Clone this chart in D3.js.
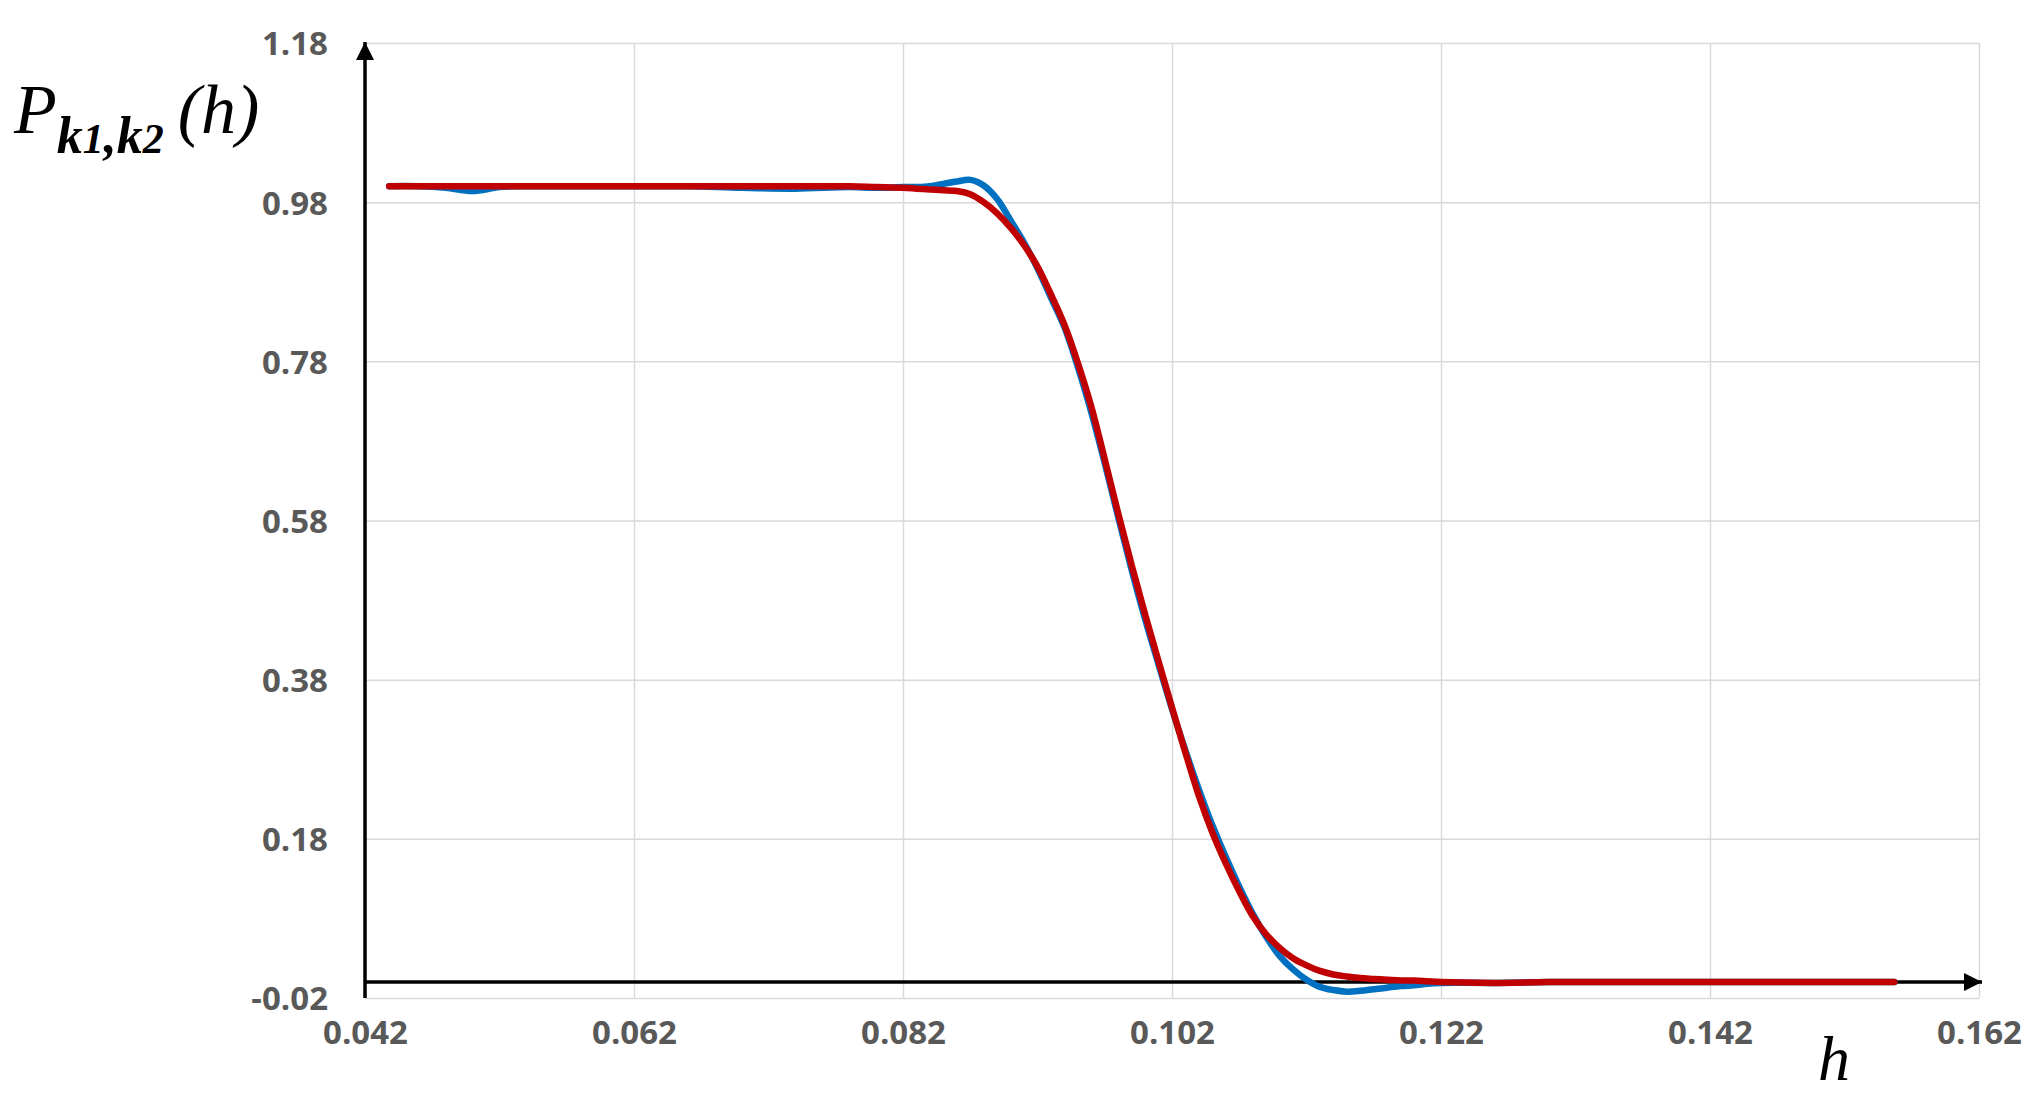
<!DOCTYPE html>
<html>
<head>
<meta charset="utf-8">
<script src="https://cdn.jsdelivr.net/npm/d3@7"></script>
<style>
  body { margin: 0; background: #fff; }
  svg { display: block; }
  .serif { font-family: "Liberation Serif", "Times New Roman", serif; font-style: italic; }
</style>
</head>
<body>
<svg width="2036" height="1096"></svg>
<script>
// h values (shared by both curves)
var hValues = [0.0438, 0.046, 0.048, 0.050, 0.052, 0.054, 0.058, 0.062, 0.066, 0.070, 0.074, 0.078,
  0.080, 0.082, 0.083, 0.084, 0.085, 0.086, 0.087, 0.088, 0.089, 0.090, 0.091, 0.092, 0.093, 0.094,
  0.095, 0.096, 0.097, 0.098, 0.099, 0.100, 0.101, 0.102, 0.103, 0.104, 0.105, 0.106, 0.107, 0.108,
  0.109, 0.110, 0.111, 0.112, 0.113, 0.114, 0.115, 0.116, 0.117, 0.118, 0.119, 0.120, 0.121, 0.122,
  0.126, 0.130, 0.134, 0.138, 0.142, 0.146, 0.150, 0.154, 0.1557];

var blueValues = [1.000, 1.000, 0.998, 0.994, 0.999, 1.000, 1.000, 1.000, 1.000, 0.998, 0.997, 0.999,
  0.998, 0.999, 0.999, 1.000, 1.003, 1.006, 1.008, 1.001, 0.984, 0.957, 0.929, 0.897, 0.860, 0.823,
  0.773, 0.716, 0.652, 0.584, 0.518, 0.456, 0.399, 0.343, 0.291, 0.242, 0.197, 0.157, 0.120, 0.086,
  0.057, 0.033, 0.016, 0.003, -0.006, -0.010, -0.012, -0.011, -0.009, -0.007, -0.005, -0.004, -0.002, -0.001,
  -0.001, 0.000, 0.000, 0.000, 0.000, 0.000, 0.000, 0.000, 0.000];

var redValues = [1.000, 1.000, 1.000, 1.000, 1.000, 1.000, 1.000, 1.000, 1.000, 1.000, 1.000, 1.000,
  0.999, 0.998, 0.997, 0.996, 0.995, 0.994, 0.990, 0.980, 0.966, 0.948, 0.926, 0.899, 0.864, 0.826,
  0.778, 0.723, 0.657, 0.589, 0.524, 0.462, 0.403, 0.345, 0.288, 0.234, 0.188, 0.149, 0.114, 0.083,
  0.060, 0.043, 0.030, 0.021, 0.014, 0.0095, 0.007, 0.005, 0.004, 0.003, 0.002, 0.002, 0.001, 0.000,
  -0.001, 0.000, 0.000, 0.000, 0.000, 0.000, 0.000, 0.000, 0.000];

var xTicks = [0.042, 0.062, 0.082, 0.102, 0.122, 0.142, 0.162];
var yTicks = [-0.02, 0.18, 0.38, 0.58, 0.78, 0.98, 1.18];

var svg = d3.select("svg"),
    margin = {top: 43, left: 365},
    width = 1979 - 365,
    height = 998 - 43,
    g = svg.append("g").attr("transform", "translate(" + margin.left + "," + margin.top + ")");

var x = d3.scaleLinear().domain([0.042, 0.162]).range([0, width]);
var y = d3.scaleLinear().domain([-0.02, 1.18]).range([height, 0]);

// plain hyphen for negatives, like the original
var fmt = d3.formatLocale({decimal: ".", thousands: ",", grouping: [3], currency: ["", ""], minus: "-"});

// grid
g.append("g")
    .attr("transform", "translate(0," + height + ")")
    .call(d3.axisBottom(x).tickValues(xTicks).tickSize(-height).tickFormat(""))
    .call(function(a) { a.select(".domain").remove(); })
    .selectAll("line")
      .attr("stroke", "#d9d9d9")
      .attr("stroke-width", 1.5);

g.append("g")
    .call(d3.axisLeft(y).tickValues(yTicks).tickSize(-width).tickFormat(""))
    .call(function(a) { a.select(".domain").remove(); })
    .selectAll("line")
      .attr("stroke", "#d9d9d9")
      .attr("stroke-width", 1.5);

// tick labels
g.append("g")
    .attr("transform", "translate(0," + height + ")")
    .call(d3.axisBottom(x).tickValues(xTicks).tickSize(0).tickFormat(fmt.format(".3f")))
    .call(function(a) { a.select(".domain").remove(); })
    .selectAll("text")
      .attr("y", 46)
      .attr("dy", 0)
      .attr("fill", "#595959")
      .style("font", "bold 33px 'Open Sans'");

g.append("g")
    .call(d3.axisLeft(y).tickValues(yTicks).tickSize(0).tickFormat(fmt.format(".2f")))
    .call(function(a) { a.select(".domain").remove(); })
    .selectAll("text")
      .attr("x", -37)
      .attr("dy", "0.36em")
      .attr("fill", "#595959")
      .style("font", "bold 33px 'Open Sans'");

// arrows
var defs = svg.append("defs");
defs.append("marker")
    .attr("id", "arrow")
    .attr("markerUnits", "userSpaceOnUse")
    .attr("viewBox", "0 0 18 18")
    .attr("refX", 18)
    .attr("refY", 9)
    .attr("markerWidth", 18)
    .attr("markerHeight", 18)
    .attr("orient", "auto")
  .append("path")
    .attr("d", "M0,0L18,9L0,18Z")
    .attr("fill", "#000");

g.append("line")
    .attr("x1", 0).attr("x2", 0)
    .attr("y1", height).attr("y2", -1)
    .attr("stroke", "#000")
    .attr("stroke-width", 3.5)
    .attr("marker-end", "url(#arrow)");

g.append("line")
    .attr("x1", 0).attr("x2", width + 3)
    .attr("y1", y(0)).attr("y2", y(0))
    .attr("stroke", "#000")
    .attr("stroke-width", 3.5)
    .attr("marker-end", "url(#arrow)");

// curves
var line = d3.line()
    .x(function(d, i) { return x(hValues[i]); })
    .y(function(d) { return y(d); })
    .curve(d3.curveCatmullRom.alpha(0.5));

g.append("path")
    .datum(blueValues)
    .attr("fill", "none")
    .attr("stroke", "#0070c0")
    .attr("stroke-linejoin", "round")
    .attr("stroke-linecap", "round")
    .attr("stroke-width", 6.5)
    .attr("d", line);

g.append("path")
    .datum(redValues)
    .attr("fill", "none")
    .attr("stroke", "#c00000")
    .attr("stroke-linejoin", "round")
    .attr("stroke-linecap", "round")
    .attr("stroke-width", 6.5)
    .attr("d", line);

// axis titles
var yt = svg.append("text")
    .attr("class", "serif")
    .attr("x", 14)
    .attr("y", 133)
    .style("font-size", "70px")
    .attr("fill", "#000");
yt.append("tspan").text("P");
var sub = yt.append("tspan").attr("dy", 20).style("font-weight", "bold").style("font-size", "52px");
sub.append("tspan").text("k");
sub.append("tspan").style("font-size", "42px").text("1");
sub.append("tspan").text(",k");
sub.append("tspan").style("font-size", "42px").text("2");
yt.append("tspan").attr("dy", -20).text("\u2009(h)");

svg.append("text")
    .attr("class", "serif")
    .attr("x", 1818)
    .attr("y", 1080)
    .style("font-size", "64px")
    .attr("fill", "#000")
    .text("h");
</script>
</body>
</html>
